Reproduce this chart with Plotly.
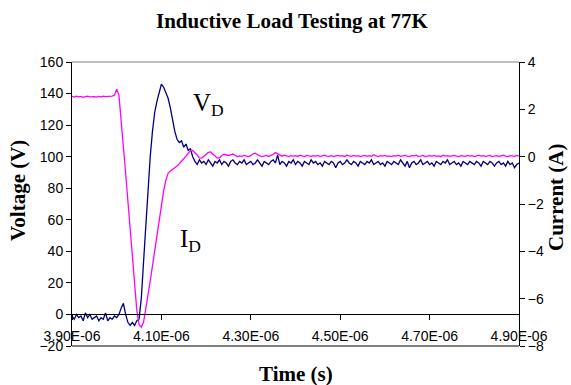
import plotly.graph_objects as go

# Time samples in nanoseconds
time_ns = [
    3900, 3905, 3910, 3915, 3920, 3925, 3930, 3935, 3940, 3945,
    3950, 3955, 3960, 3965, 3970, 3975, 3980, 3985, 3990, 3995,
    4000, 4005, 4010, 4015, 4020, 4025, 4030, 4035, 4040, 4045,
    4050, 4055, 4060, 4065, 4070, 4075, 4080, 4085, 4090, 4095,
    4100, 4105, 4110, 4115, 4120, 4125, 4130, 4135, 4140, 4145,
    4150, 4155, 4160, 4165, 4170, 4175, 4180, 4185, 4190, 4195,
    4200, 4205, 4210, 4215, 4220, 4225, 4230, 4235, 4240, 4245,
    4250, 4255, 4260, 4265, 4270, 4275, 4280, 4285, 4290, 4295,
    4300, 4305, 4310, 4315, 4320, 4325, 4330, 4335, 4340, 4345,
    4350, 4355, 4360, 4365, 4370, 4375, 4380, 4385, 4390, 4395,
    4400, 4405, 4410, 4415, 4420, 4425, 4430, 4435, 4440, 4445,
    4450, 4455, 4460, 4465, 4470, 4475, 4480, 4485, 4490, 4495,
    4500, 4505, 4510, 4515, 4520, 4525, 4530, 4535, 4540, 4545,
    4550, 4555, 4560, 4565, 4570, 4575, 4580, 4585, 4590, 4595,
    4600, 4605, 4610, 4615, 4620, 4625, 4630, 4635, 4640, 4645,
    4650, 4655, 4660, 4665, 4670, 4675, 4680, 4685, 4690, 4695,
    4700, 4705, 4710, 4715, 4720, 4725, 4730, 4735, 4740, 4745,
    4750, 4755, 4760, 4765, 4770, 4775, 4780, 4785, 4790, 4795,
    4800, 4805, 4810, 4815, 4820, 4825, 4830, 4835, 4840, 4845,
    4850, 4855, 4860, 4865, 4870, 4875, 4880, 4885, 4890, 4895,
    4900,
]

# Diode voltage V_D (V)
voltage_v = [
    -1, -3, 0, -2, -1, -4, 1, -2, 0, -3,
    -2, -1, -4, -2, -3, 1, -4, -2, -3, -1,
    -2, 0, 4, 7, 0, -5, -7, -5, -7, -4,
    -3, 10, 33, 57, 80, 100, 116, 128, 135, 141,
    146, 144, 140, 137, 131, 123, 116, 111, 109, 110,
    106, 108, 104, 105, 100, 97, 95, 98, 96, 97,
    95, 98, 96, 94, 97, 96, 98, 95, 97, 96,
    94, 97, 98, 96, 95, 97, 96, 98, 95, 96,
    97, 95, 96, 98, 96, 94, 97, 96, 95, 97,
    98, 96, 101, 95, 97, 96, 94, 97, 96, 98,
    95, 97, 96, 94, 97, 96, 95, 98, 96, 97,
    95, 96, 94, 97, 96, 95, 97, 96, 93, 96,
    97, 95, 96, 98, 96, 95, 97, 96, 94, 97,
    96, 95, 97, 96, 98, 95, 96, 97, 95, 96,
    94, 97, 96, 95, 97, 96, 95, 98, 96, 94,
    97, 93, 96, 97, 95, 96, 98, 95, 96, 97,
    95, 96, 94, 97, 96, 95, 97, 96, 98, 95,
    96, 97, 95, 96, 94, 97, 96, 95, 97, 96,
    95, 97, 96, 94, 97, 96, 95, 97, 96, 94,
    96, 97, 95, 96, 94, 97, 95, 96, 93, 95,
    96,
]

# Diode current I_D (A)
current_a = [
    2.55, 2.52, 2.56, 2.53, 2.55, 2.51, 2.54, 2.56, 2.53, 2.55,
    2.54, 2.52, 2.55, 2.53, 2.56, 2.54, 2.55, 2.53, 2.56, 2.60,
    2.85, 2.60, 1.60, 0.45, -0.70, -1.86, -3.00, -4.20, -5.35, -6.50,
    -7.10, -7.20, -7.00, -6.50, -5.85, -5.25, -4.60, -3.95, -3.30, -2.70,
    -2.00, -1.45, -1.00, -0.70, -0.60, -0.53, -0.48, -0.40, -0.30, -0.20,
    -0.10, 0.02, 0.15, 0.25, 0.26, 0.18, 0.07, -0.05, -0.06, 0.02,
    0.10, 0.18, 0.20, 0.12, 0.02, -0.06, -0.05, 0.05, 0.10, 0.08,
    0.05, 0.08, 0.11, 0.06, 0.00, 0.03, 0.01, 0.05, 0.02, 0.00,
    0.04, 0.12, 0.15, 0.08, 0.03, 0.00, 0.02, 0.05, 0.01, 0.04,
    0.10, 0.17, 0.12, 0.05, 0.02, 0.06, 0.03, 0.00, 0.04, 0.02,
    0.04, 0.01, 0.06, 0.02, 0.00, 0.05, 0.03, 0.01, 0.04, 0.02,
    0.05, 0.00, 0.03, 0.06, 0.02, 0.01, 0.04, 0.00, 0.03, 0.05,
    0.02, 0.04, 0.00, 0.06, 0.03, 0.01, 0.05, 0.02, 0.04, 0.00,
    0.03, 0.05, 0.01, 0.04, 0.02, 0.08, 0.03, 0.00, 0.04, 0.02,
    0.05, 0.01, 0.03, 0.00, 0.04, 0.02, 0.06, 0.01, 0.03, 0.05,
    0.02, 0.00, 0.04, 0.03, 0.06, 0.01, 0.02, 0.05, 0.00, 0.03,
    0.04, 0.02, 0.05, 0.01, 0.03, 0.00, 0.06, 0.02, 0.04, 0.01,
    0.03, 0.05, 0.02, 0.00, 0.04, 0.03, 0.01, 0.05, 0.02, 0.04,
    0.00, 0.03, 0.06, 0.02, 0.04, 0.01, 0.03, 0.05, 0.00, 0.02,
    0.04, 0.01, 0.03, 0.06, 0.02, 0.00, 0.04, 0.03, 0.01, 0.05,
    0.02,
]

x_ticks = [3.9e-6, 4.1e-6, 4.3e-6, 4.5e-6, 4.7e-6, 4.9e-6]
x_tick_text = ["3.90E-06", "4.10E-06", "4.30E-06", "4.50E-06", "4.70E-06", "4.90E-06"]
v_ticks = [-20, 0, 20, 40, 60, 80, 100, 120, 140, 160]
i_ticks = [-8, -6, -4, -2, 0, 2, 4]

title_text = "Inductive Load Testing at 77K"
x_title = "Time (s)"
y_title = "Voltage (V)"
y2_title = "Current (A)"

t_sec = [v * 1e-9 for v in time_ns]

V_MIN, V_MAX = -20, 160
I_MIN, I_MAX = -8, 4

fig = go.Figure()
fig.add_trace(go.Scatter(x=t_sec, y=voltage_v, mode="lines",
                         line=dict(color="#000080", width=1.3),
                         yaxis="y", showlegend=False))
fig.add_trace(go.Scatter(x=t_sec, y=current_a, mode="lines",
                         line=dict(color="#FF00FF", width=1.3),
                         yaxis="y2", showlegend=False))

tick_font = dict(family="Liberation Sans, Arial", size=14, color="black")
serif_bold = dict(family="Liberation Serif, Times New Roman", size=21, color="black")

fig.update_layout(
    width=571, height=385,
    margin=dict(l=72, r=52, t=62, b=39, pad=0),
    paper_bgcolor="white", plot_bgcolor="white",
    showlegend=False,
    xaxis=dict(
        range=[3.9e-6, 4.9e-6], tickvals=x_ticks, ticktext=x_tick_text,
        showgrid=False, zeroline=False, showline=True, linecolor="black", linewidth=1,
        ticks="outside", ticklen=5, tickcolor="black", tickwidth=1,
        tickfont=tick_font, anchor="free",
        position=(0 - V_MIN) / (V_MAX - V_MIN),
        ticklabelstandoff=4,
    ),
    yaxis=dict(
        range=[V_MIN, V_MAX], tickvals=v_ticks,
        showgrid=False, zeroline=False, showline=True, linecolor="black", linewidth=1,
        ticks="outside", ticklen=5, tickcolor="black", tickwidth=1,
        tickfont=tick_font,
    ),
    yaxis2=dict(
        range=[I_MIN, I_MAX], tickvals=i_ticks, overlaying="y", side="right",
        showgrid=False, zeroline=False, showline=True, linecolor="black", linewidth=1,
        ticks="outside", ticklen=5, tickcolor="black", tickwidth=1,
        tickfont=tick_font,
    ),
    shapes=[
        dict(type="line", xref="paper", yref="paper", x0=0, x1=1, y0=1, y1=1,
             line=dict(color="#808080", width=1)),
        dict(type="line", xref="paper", yref="paper", x0=0, x1=1, y0=0, y1=0,
             line=dict(color="black", width=1)),
    ],
    annotations=[
        dict(text="<b>" + title_text + "</b>", xref="paper", yref="paper",
             x=0.4933, y=1.1444, xanchor="center", yanchor="middle",
             showarrow=False, font=serif_bold),
        dict(text="<b>" + x_title + "</b>", xref="paper", yref="paper",
             x=0.5018, y=-0.0986, xanchor="center", yanchor="middle",
             showarrow=False, font=serif_bold),
        dict(text="<b>" + y_title + "</b>", xref="paper", yref="paper",
             x=-0.1208, y=0.546, xanchor="center", yanchor="middle",
             textangle=-90, showarrow=False, font=serif_bold),
        dict(text="<b>" + y2_title + "</b>", xref="paper", yref="paper",
             x=1.0828, y=0.5246, xanchor="center", yanchor="middle",
             textangle=-90, showarrow=False, font=serif_bold),
        dict(text="V<sub>D</sub>", xref="x", yref="y",
             x=4.166e-6, y=133, xanchor="left", yanchor="middle",
             showarrow=False,
             font=dict(family="Liberation Serif, Times New Roman", size=25, color="black")),
        dict(text="I<sub>D</sub>", xref="x", yref="y",
             x=4.137e-6, y=47, xanchor="left", yanchor="middle",
             showarrow=False,
             font=dict(family="Liberation Serif, Times New Roman", size=25, color="black")),
    ],
)

fig.write_html("out.html")
